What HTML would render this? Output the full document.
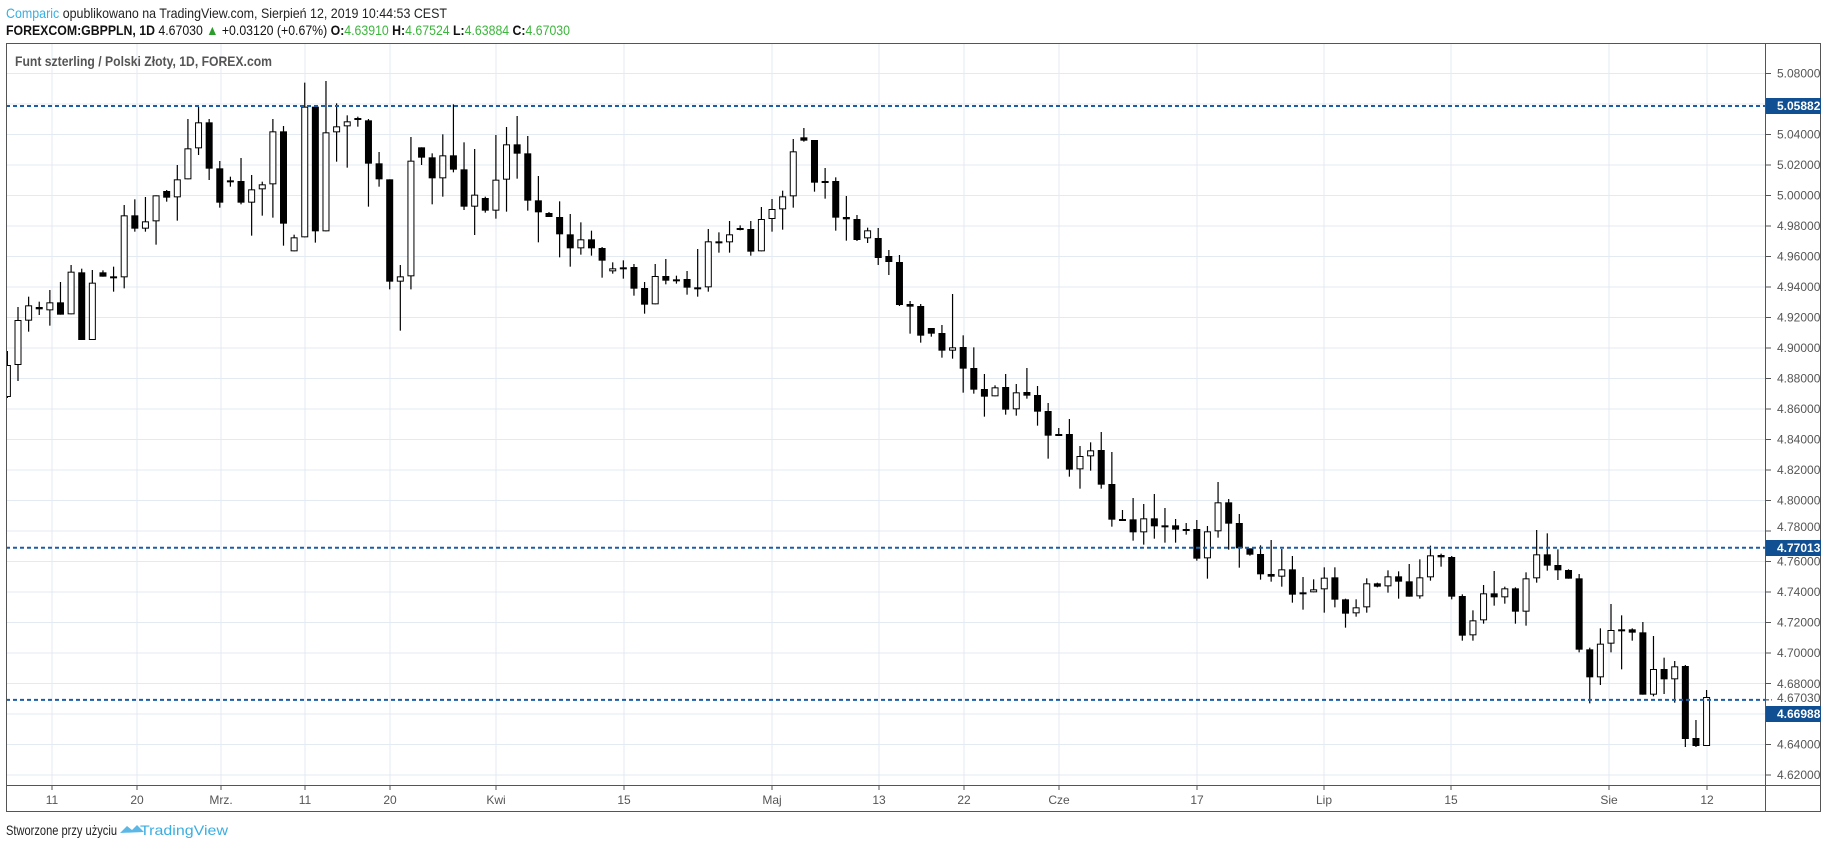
<!DOCTYPE html>
<html><head><meta charset="utf-8"><style>
html,body{margin:0;padding:0;background:#fff;}
svg{display:block;font-family:"Liberation Sans",sans-serif;}
</style></head><body>
<svg id="s" width="1828" height="849" viewBox="0 0 1828 849" xmlns="http://www.w3.org/2000/svg">
<defs><clipPath id="cp"><rect x="7" y="44" width="1758" height="741"/></clipPath></defs>
<rect width="1828" height="849" fill="#fff"/>
<g id="grid" stroke="#e3eaf1" stroke-width="1"></g>
<text x="6" y="18" font-size="14" fill="#222" textLength="441" lengthAdjust="spacingAndGlyphs"><tspan fill="#3aaee0">Comparic</tspan> opublikowano na TradingView.com, Sierpień 12, 2019 10:44:53 CEST</text>
<text x="6" y="35" font-size="14" fill="#111" textLength="564" lengthAdjust="spacingAndGlyphs"><tspan font-weight="bold">FOREXCOM:GBPPLN, 1D</tspan> 4.67030 <tspan fill="#2a9d2a">▲</tspan> +0.03120 (+0.67%) <tspan font-weight="bold">O:</tspan><tspan fill="#3cb53c">4.63910</tspan> <tspan font-weight="bold">H:</tspan><tspan fill="#3cb53c">4.67524</tspan> <tspan font-weight="bold">L:</tspan><tspan fill="#3cb53c">4.63884</tspan> <tspan font-weight="bold">C:</tspan><tspan fill="#3cb53c">4.67030</tspan></text>
<text x="15" y="66" font-size="14" fill="#555" font-weight="bold" textLength="257" lengthAdjust="spacingAndGlyphs">Funt szterling / Polski Złoty, 1D, FOREX.com</text>
<g id="candles" clip-path="url(#cp)"></g>
<g stroke="#1a5fa6" stroke-width="2" stroke-dasharray="4,3">
<line x1="6" y1="106" x2="1765" y2="106"/>
<line x1="6" y1="547.7" x2="1765" y2="547.7"/>
<line x1="6" y1="699.9" x2="1765" y2="699.9"/>
</g>
<g fill="none" stroke="#555" stroke-width="1">
<rect x="6.5" y="43.5" width="1814" height="768"/>
<line x1="1765.5" y1="43" x2="1765.5" y2="812"/>
<line x1="6" y1="785.5" x2="1821" y2="785.5"/>
</g>
<g id="paxis" font-size="12" fill="#555"></g>
<g id="taxis" font-size="12" fill="#555" text-anchor="middle"></g>
<rect x="1766" y="98" width="55" height="16" fill="#0f4f92"/>
<text x="1777" y="110" font-size="12" font-weight="bold" fill="#fff">5.05882</text>
<rect x="1766" y="540" width="55" height="16" fill="#0f4f92"/>
<text x="1777" y="552" font-size="12" font-weight="bold" fill="#fff">4.77013</text>
<rect x="1766" y="706" width="55" height="16" fill="#0f4f92"/>
<text x="1777" y="718" font-size="12" font-weight="bold" fill="#fff">4.66988</text>
<line x1="1766" y1="699.9" x2="1772" y2="699.9" stroke="#333" stroke-dasharray="3,2"/>
<text x="1777" y="702" font-size="12" fill="#555">4.67030</text>
<text x="6" y="835" font-size="14" fill="#222" textLength="111" lengthAdjust="spacingAndGlyphs">Stworzone przy użyciu</text>
<path d="M120 833 l7 -7 l5 4 l5 -5 l7 7 z" fill="#5bb8e6"/>
<text x="140" y="835" font-size="14" fill="#3aaee0" textLength="88" lengthAdjust="spacingAndGlyphs">TradingView</text>
</svg>
<script>
var NS="http://www.w3.org/2000/svg";
function el(p,t,a,txt){var e=document.createElementNS(NS,t);for(var k in a)e.setAttribute(k,a[k]);if(txt)e.textContent=txt;p.appendChild(e);return e;}
var grid=document.getElementById('grid'),pax=document.getElementById('paxis'),tax=document.getElementById('taxis'),cg=document.getElementById('candles');
for(var k=0;k<=23;k++){var y=73.5+k*30.5;el(grid,'line',{x1:6,y1:y,x2:1765,y2:y});
 var p=(5.08-k*0.02).toFixed(5);el(pax,'line',{x1:1765,y1:y,x2:1771,y2:y,stroke:'#555'});
 if(p!=="4.78000"&&p!=="4.68000")el(pax,'text',{x:1777,y:y+4},p);}
el(pax,'text',{x:1777,y:531},"4.78000");el(pax,'text',{x:1777,y:688},"4.68000");
var T=[[52,"11"],[137,"20"],[221,"Mrz."],[305,"11"],[390,"20"],[496,"Kwi"],[624,"15"],[772,"Maj"],[879,"13"],[964,"22"],[1059,"Cze"],[1197,"17"],[1324,"Lip"],[1451,"15"],[1609,"Sie"],[1707,"12"]];
T.forEach(function(t){el(grid,'line',{x1:t[0],y1:44,x2:t[0],y2:785});el(tax,'line',{x1:t[0],y1:785,x2:t[0],y2:790,stroke:'#555'});el(tax,'text',{x:t[0],y:804},t[1]);});
function cv(a,f){return a.map(function(r){return [f(r[0]),f(r[1]),f(r[2]),f(r[3]),r[4]];});}
var g1=cv([[921,1143,960,1095,0],[890,995,916,962,0],[905,945,921,928,1],[870,977,907,931,0],[846,944,907,944,1],[795,943,815,943,0],[806,1020,817,1020,1],[810,1020,848,1020,0],[811,830,817,830,1],[800,875,829,832,1],[615,865,646,832,0],[598,695,646,686,1],[591,695,664,686,0],[586,734,586,664,0],[570,605,573,593,1],[495,662,538,592,0],[357,538,445,538,0],[320,465,367,445,0],[357,540,367,506,1],[483,623,505,608,1],[530,560,541,546,1],[474,613,543,608,1],[525,707,568,608,0],[545,647,553,568,0],[357,653,394,553,0],[378,737,394,671,1],[704,754,712,754,0],[248,712,320,712,0],[318,728,320,694,1],[243,694,397,694,0],[310,485,379,397,0],[346,503,364,379,0],[350,380,354,360,1],[357,620,361,491,1],[456,560,490,538,1],[538,868,538,845,1],[795,992,829,845,0],[411,868,482,829,0],[442,495,442,473,1],[460,613,472,535,1],[403,590,466,535,0],[313,517,466,509,1],[427,630,508,620,1],[447,705,584,620,0],[590,638,594,632,1],[405,656,539,632,0],[381,635,433,539,0],[348,536,433,461,1],[408,632,460,602,1],[528,727,601,637,1],[636,651,639,651,1],[604,772,651,703,1],[642,800,703,745,1],[667,764,718,745,0],[692,767,718,745,1]],function(v){return v/3;});
var g2=cv([[441,533,444,482,1],[487,521,505,514,0],[481,536,502,506,1],[492,587,501,566,1],[546,641,564,614,1],[492,613,528,613,0],[477,553,528,542,1],[527,551,538,540,1],[513,584,537,563,1],[447,590,562,566,1],[387,575,424,562,0],[397,458,424,428,1],[363,458,403,427,0],[376,391,384,389,1],[363,467,387,455,1],[321,454,357,454,0],[297,395,327,357,0],[272,389,289,328,0],[117,323,154,289,0],[84,125,112,122,1],[120,275,120,248,1],[204,296,243,247,1],[232,392,243,353,1],[288,422,351,358,1],[345,423,357,420,1],[383,429,391,415,0]],function(v){return v/3+100;});
var g3=[[228,265,238,258,1],[250,275,256,262,1],[255,306,262,305,1]];
var g4=cv([[63,161,72,80,1],[72,188,78,167,1],[144,170,144,161,1],[135,233,159,212,1],[42,236,202,212,0],[166,338,201,266,1],[202,341,264,329,1],[282,410,327,350,1],[316,349,322,349,0],[282,404,321,389,1],[312,407,337,388,0],[264,356,336,347,1],[318,437,345,395,1],[369,536,393,467,1],[444,467,462,467,1],[417,590,462,569,1],[498,626,528,568,0],[487,572,511,529,0],[456,626,510,614,1],[516,740,612,719,1]],function(v){return v/3+280;});
var g5=cv([[120,149,147,149,1],[84,212,148,187,1],[102,224,145,187,0],[72,206,145,169,1],[114,218,166,170,1],[147,218,166,179,1],[159,194,177,179,1],[150,272,177,266,1],[168,326,184,265,0],[36,203,97,184,0],[87,239,97,161,1],[132,293,159,235,1],[235,257,235,254,1],[226,329,252,313,1],[210,335,312,320,1],[237,350,298,320,0],[258,398,298,374,1],[321,419,367,373,0]],function(v){return v/3+470;});
var g6=cv([[538,577,568,577,0],[502,638,533,568,0],[502,622,532,599,1],[596,683,598,641,1],[598,650,622,640,0],[535,638,550,622,0],[548,562,550,560,1],[511,578,529,559,0],[514,596,529,545,1],[492,590,544,590,1],[478,596,532,589,0],[437,542,466,532,0],[461,500,465,472,1],[468,598,471,590,1],[583,722,588,707,1],[631,722,661,706,0],[555,671,580,661,0],[513,617,580,592,1],[560,611,565,592,0],[562,671,565,635,1],[517,677,535,635,0],[390,548,463,535,0],[400,512,463,497,1],[448,540,495,511,1],[508,536,510,536,1],[522,757,535,749,1],[743,910,748,832,1],[685,855,731,832,0],[612,757,690,731,0],[646,808,688,691,1],[685,722,688,698,1],[666,884,697,884,1],[708,889,807,884,0],[773,882,807,838,1],[783,908,799,838,0]],function(v){return v/3+400;});
var g7=[[665,747,666,739,1],[720,747,738,746,1],[690,746,697,746,0]];
var all=[[351,398,365,397,0]].concat(g1,g2,g3,g4,g5,g6,g7);
for(var i=0;i<all.length;i++){var c=all[i];var x=18+(i-1)*10.62;
 el(cg,'line',{x1:x,y1:c[0],x2:x,y2:c[1],stroke:'#000','stroke-width':1.2});
 var h=Math.max(c[3]-c[2],2);
 if(c[4])el(cg,'rect',{x:x-3.5,y:c[2],width:7,height:h,fill:'#000'});
 else el(cg,'rect',{x:x-3,y:c[2]+0.5,width:6,height:Math.max(h-1,1),fill:'#fff',stroke:'#000','stroke-width':1});
}
</script>
</body></html>
